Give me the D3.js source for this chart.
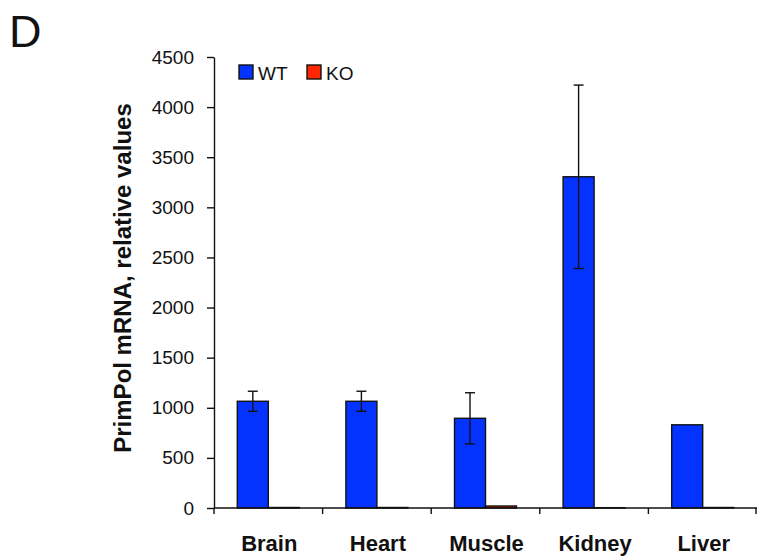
<!DOCTYPE html>
<html>
<head>
<meta charset="utf-8">
<script src="https://cdn.jsdelivr.net/npm/d3@7"></script>
<style>
  html, body { margin: 0; padding: 0; background: #fff; }
  svg { display: block; }
</style>
</head>
<body>
<svg id="chart" width="757" height="557"></svg>
<script>
// PrimPol mRNA expression per tissue, wild type vs knockout
const tissues = ["Brain", "Heart", "Muscle", "Kidney", "Liver"];
const series = ["WT", "KO"];
const wtValues = [1065, 1065, 895, 3305, 830];
const wtErrors = [100, 100, 255, 915, 0];
const koValues = [5, 5, 20, 3, 5];
const koErrors = [0, 0, 0, 0, 0];
const yTicks = [0, 500, 1000, 1500, 2000, 2500, 3000, 3500, 4000, 4500];

const colors = { WT: "#0433ff", KO: "#ff2600" };

const svg = d3.select("#chart");
const font = "'Liberation Sans', Arial, Helvetica, sans-serif";

const plotLeft = 214, plotRight = 757, plotTop = 57, plotBottom = 508;

const x = d3.scaleBand().domain(tissues).range([plotLeft, plotRight]).paddingInner(0).paddingOuter(0);
const y = d3.scaleLinear().domain([0, 4500]).range([plotBottom, plotTop]);

const barW = 31;
const inner = d3.scaleBand().domain(series).range([0, barW * 2]);

const rows = tissues.map((t, i) => ({
  tissue: t,
  vals: [
    { s: "WT", v: wtValues[i], e: wtErrors[i] },
    { s: "KO", v: koValues[i], e: koErrors[i] }
  ]
}));

// bars
const groups = svg.append("g").selectAll("g").data(rows).join("g")
  .attr("transform", d => `translate(${x(d.tissue) + (x.bandwidth() - barW * 2) / 2},0)`);

groups.selectAll("rect").data(d => d.vals).join("rect")
  .attr("x", d => inner(d.s))
  .attr("width", inner.bandwidth())
  .attr("y", d => y(d.v))
  .attr("height", d => y(0) - y(d.v))
  .attr("fill", d => colors[d.s])
  .attr("stroke", "#111")
  .attr("stroke-width", 1.4);

// error bars
const errs = groups.selectAll("g.err").data(d => d.vals.filter(v => v.e > 0)).join("g")
  .attr("class", "err")
  .attr("stroke", "#111")
  .attr("stroke-width", 1.4);
errs.append("line")
  .attr("x1", d => inner(d.s) + inner.bandwidth() / 2)
  .attr("x2", d => inner(d.s) + inner.bandwidth() / 2)
  .attr("y1", d => y(d.v + d.e))
  .attr("y2", d => y(d.v - d.e));
errs.append("line")
  .attr("x1", d => inner(d.s) + inner.bandwidth() / 2 - 5)
  .attr("x2", d => inner(d.s) + inner.bandwidth() / 2 + 5)
  .attr("y1", d => y(d.v + d.e))
  .attr("y2", d => y(d.v + d.e));
errs.append("line")
  .attr("x1", d => inner(d.s) + inner.bandwidth() / 2 - 5)
  .attr("x2", d => inner(d.s) + inner.bandwidth() / 2 + 5)
  .attr("y1", d => y(d.v - d.e))
  .attr("y2", d => y(d.v - d.e));

// y axis
const yAxis = svg.append("g")
  .attr("transform", `translate(${plotLeft},0)`)
  .call(d3.axisLeft(y).tickValues(yTicks).tickFormat(d3.format("d"))
    .tickSize(7).tickSizeOuter(0).tickPadding(13));
yAxis.select(".domain").attr("stroke", "#111").attr("stroke-width", 1.4);
yAxis.selectAll(".tick line").attr("stroke", "#111").attr("stroke-width", 1.4);
yAxis.selectAll("text").attr("font-family", font).attr("font-size", 19).attr("fill", "#111");

// x axis with ticks at group boundaries
const xAxis = svg.append("g")
  .attr("transform", `translate(0,${plotBottom})`);
xAxis.append("line")
  .attr("x1", plotLeft).attr("x2", plotRight)
  .attr("stroke", "#111").attr("stroke-width", 1.4);
const bounds = tissues.map(t => x(t)).concat([x(tissues[tissues.length - 1]) + x.bandwidth() - 1]);
xAxis.selectAll("line.tk").data(bounds).join("line")
  .attr("class", "tk")
  .attr("x1", d => d).attr("x2", d => d)
  .attr("y1", 0).attr("y2", 6)
  .attr("stroke", "#111").attr("stroke-width", 1.4);
xAxis.selectAll("text").data(tissues).join("text")
  .attr("x", d => x(d) + x.bandwidth() / 2 + 1)
  .attr("y", 43)
  .attr("text-anchor", "middle")
  .attr("font-family", font)
  .attr("font-weight", "bold")
  .attr("font-size", 22)
  .attr("fill", "#111")
  .text(d => d);

// y axis title
svg.append("text")
  .attr("transform", `translate(131,278) rotate(-90)`)
  .attr("text-anchor", "middle")
  .attr("font-family", font)
  .attr("font-weight", "bold")
  .attr("font-size", 24)
  .attr("fill", "#111")
  .text("PrimPol mRNA, relative values");

// panel letter
svg.append("text")
  .attr("x", 9).attr("y", 47)
  .attr("font-family", font)
  .attr("font-size", 45)
  .attr("fill", "#111")
  .text("D");

// legend
const legend = svg.append("g").attr("transform", "translate(239,65)");
const items = legend.selectAll("g").data(series).join("g")
  .attr("transform", (d, i) => `translate(${i * 68},0)`);
items.append("rect")
  .attr("width", 14).attr("height", 14)
  .attr("fill", d => colors[d])
  .attr("stroke", "#111").attr("stroke-width", 1.4);
items.append("text")
  .attr("x", 19).attr("y", 15)
  .attr("font-family", font)
  .attr("font-size", 19)
  .attr("fill", "#111")
  .text(d => d);
</script>
</body>
</html>
